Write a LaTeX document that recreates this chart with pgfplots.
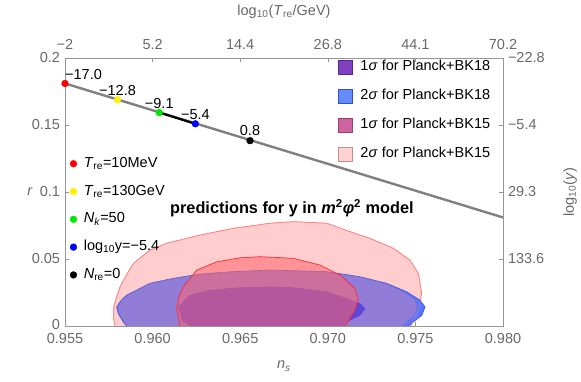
\documentclass[border=0pt]{standalone}
\usepackage{pgfplots}
\pgfplotsset{compat=1.18}
\usepackage{fontspec}
\setmainfont{Liberation Sans}
\definecolor{framegray}{RGB}{150,150,150}
\definecolor{labgray}{RGB}{105,105,105}
\definecolor{linegray}{RGB}{128,128,128}
\definecolor{bkeightB}{RGB}{90,120,255}
\definecolor{bkeightBe}{RGB}{60,90,230}
\definecolor{bkeightP}{RGB}{145,125,215}
\definecolor{bkeightPe}{RGB}{125,110,205}
\definecolor{bkeightI}{RGB}{95,70,215}
\definecolor{bkfiveT}{RGB}{255,205,205}
\definecolor{bkfiveTe}{RGB}{255,120,120}
\definecolor{bkfiveO}{RGB}{255,100,110}
\definecolor{bkfiveOe}{RGB}{255,40,50}
\definecolor{swA}{RGB}{128,64,192}
\definecolor{swAe}{RGB}{90,40,140}
\definecolor{swB}{RGB}{100,140,255}
\definecolor{swBe}{RGB}{50,80,200}
\definecolor{swC}{RGB}{205,100,160}
\definecolor{swCe}{RGB}{160,60,115}
\definecolor{swD}{RGB}{255,210,210}
\definecolor{swDe}{RGB}{205,140,140}
\definecolor{ptyellow}{RGB}{255,240,0}
\definecolor{ptgreen}{RGB}{0,230,0}
\newcommand{\fs}{\fontsize{14.5}{17}\selectfont}
\begin{document}
\begin{tikzpicture}
\useasboundingbox (-65pt,-56pt) rectangle (516pt,326pt);
\pgfplotsset{common/.style={scale only axis, width=438pt, height=268pt,
  xmin=0.955, xmax=0.98, ymin=0, ymax=0.2,
  tick align=inside, major tick length=4pt,
  axis line style={framegray, line width=0.6pt},
  every tick/.style={framegray, line width=0.6pt},
  tick label style={font=\fs, text=labgray, inner sep=1.5pt},
  label style={font=\fs, text=labgray}}}

\begin{axis}[common,
  xtick={0.955,0.96,0.965,0.97,0.975,0.98},
  xticklabels={0.955,0.960,0.965,0.970,0.975,0.980},
  ytick={0,0.05,0.1,0.15,0.2},
  yticklabels={\raisebox{2.5pt}{0},0.05,0.1,0.15,0.2},
  xtick pos=left, ytick pos=left,
  xticklabel style={yshift=-5.8pt},
  yticklabel style={xshift=-3.3pt, yshift=0.5pt},
  xlabel={\textit{n}\textsubscript{\textit{s}}},
  ylabel={\textit{r}},
  xlabel style={at={(axis description cs:0.5,-0.15)}, anchor=center},
  ylabel style={at={(axis description cs:-0.08,0.5)}, anchor=center, rotate=-90},
  legend image code/.code={\draw[#1, line width=0.8pt] (0pt,-7pt) rectangle (14pt,7pt);},
  legend style={at={(axis description cs:0.623,0.998)}, anchor=north west,
    draw=none, fill=none, font=\fs, inner sep=0pt, row sep=12pt, column sep=5.6pt,
    nodes={inner sep=2pt, text height=10pt, text depth=3pt}},
  legend cell align=left]

% 2 sigma Planck+BK15 (under)
\addplot[fill=bkfiveT, draw=bkfiveTe, line width=0.6pt, forget plot] coordinates {
(0.95790,-0.003) (0.95778,0.005) (0.95778,0.0142) (0.95795,0.022) (0.95814,0.0292)
(0.95850,0.038) (0.95890,0.0467) (0.95985,0.0567) (0.96080,0.0617) (0.96271,0.0679)
(0.96461,0.0729) (0.96670,0.0767) (0.96803,0.0779) (0.96994,0.0767) (0.97127,0.0704)
(0.97241,0.0654) (0.97374,0.0580) (0.97469,0.0492) (0.97517,0.0392) (0.97536,0.0243)
(0.97517,0.0118) (0.97479,0.0018) (0.97465,-0.003)} -- cycle;

% 2 sigma Planck+BK18 (blue rim)
\addplot[fill=bkeightB, draw=bkeightBe, line width=0.8pt, forget plot] coordinates {
(0.95870,-0.003) (0.95833,0.003) (0.95805,0.009) (0.95795,0.0142) (0.95820,0.019)
(0.95852,0.0230) (0.95985,0.0318) (0.96118,0.0355) (0.96271,0.0387) (0.96461,0.0405)
(0.96670,0.0417) (0.96994,0.0405) (0.97184,0.0367) (0.97336,0.0318) (0.97450,0.0255)
(0.97526,0.0192) (0.97555,0.0142) (0.97536,0.0080) (0.97488,0.003) (0.97430,-0.003)} -- cycle;

% purple body of the BK18 region
\addplot[fill=bkeightP, draw=bkeightPe, line width=0.5pt, forget plot] coordinates {
(0.95875,-0.003) (0.95838,0.003) (0.95810,0.009) (0.95800,0.0142) (0.95824,0.019)
(0.95855,0.0228) (0.95985,0.0316) (0.96118,0.0353) (0.96271,0.0385) (0.96461,0.0403)
(0.96670,0.0415) (0.96994,0.0403) (0.97184,0.0364) (0.97336,0.0314) (0.97440,0.0250)
(0.97500,0.0190) (0.97510,0.0142) (0.97495,0.0080) (0.97450,0.003) (0.97400,-0.003)} -- cycle;

% 1 sigma Planck+BK18
\addplot[fill=bkeightI, draw=bkeightI, line width=0.5pt, forget plot] coordinates {
(0.96250,-0.003) (0.96170,0.004) (0.96147,0.0142) (0.96213,0.0230) (0.96328,0.0267)
(0.96499,0.0287) (0.96670,0.0292) (0.96803,0.0287) (0.96994,0.0255) (0.97107,0.0205)
(0.97184,0.0167) (0.97212,0.0130) (0.97184,0.008) (0.97107,0.003) (0.97080,-0.003)} -- cycle;

% 1 sigma Planck+BK15 (translucent, on top)
\addplot[fill=bkfiveO, fill opacity=0.55, draw=bkfiveOe, line width=0.7pt, forget plot] coordinates {
(0.96160,-0.003) (0.96150,0.005) (0.96138,0.0130) (0.96150,0.022) (0.96175,0.0292)
(0.96252,0.0417) (0.96366,0.0479) (0.96499,0.0509) (0.96613,0.0517) (0.96700,0.0512)
(0.96803,0.0505) (0.96955,0.0455) (0.97070,0.0380) (0.97155,0.0280) (0.97174,0.0205)
(0.97155,0.0118) (0.97107,0.0018) (0.97095,-0.003)} -- cycle;

% outline of 2 sigma BK15 again
\addplot[draw=bkfiveTe, draw opacity=0.6, line width=0.6pt, forget plot] coordinates {
(0.95790,-0.003) (0.95778,0.005) (0.95778,0.0142) (0.95795,0.022) (0.95814,0.0292)
(0.95850,0.038) (0.95890,0.0467) (0.95985,0.0567) (0.96080,0.0617) (0.96271,0.0679)
(0.96461,0.0729) (0.96670,0.0767) (0.96803,0.0779) (0.96994,0.0767) (0.97127,0.0704)
(0.97241,0.0654) (0.97374,0.0580) (0.97469,0.0492) (0.97517,0.0392) (0.97536,0.0243)
(0.97517,0.0118) (0.97479,0.0018) (0.97465,-0.003)};

% prediction line
\addplot[linegray, line width=2.4pt, forget plot] coordinates {(0.955,0.181) (0.98,0.081)};
\addplot[black, line width=2.2pt, forget plot] coordinates {(0.96038,0.1593) (0.96244,0.1509)};

% points
\addplot[only marks, mark=*, mark size=3.4pt, red, forget plot] coordinates {(0.955,0.181)};
\addplot[only marks, mark=*, mark size=3.4pt, ptyellow, forget plot] coordinates {(0.9580,0.1689)};
\addplot[only marks, mark=*, mark size=3.4pt, ptgreen, forget plot] coordinates {(0.96038,0.1593)};
\addplot[only marks, mark=*, mark size=3.4pt, blue, forget plot] coordinates {(0.96244,0.1509)};
\addplot[only marks, mark=*, mark size=3.4pt, black, forget plot] coordinates {(0.96556,0.1383)};

\node[font=\fs, anchor=base west, inner sep=0pt, yshift=3.5pt] at (axis cs:0.955,0.181) {−17.0};
\node[font=\fs, anchor=base, inner sep=0pt, yshift=4pt] at (axis cs:0.9580,0.1689) {−12.8};
\node[font=\fs, anchor=base, inner sep=0pt, yshift=4pt] at (axis cs:0.96038,0.1593) {−9.1};
\node[font=\fs, anchor=base, inner sep=0pt, yshift=4pt] at (axis cs:0.96244,0.1509) {−5.4};
\node[font=\fs, anchor=base, inner sep=0pt, yshift=5pt] at (axis cs:0.96556,0.1383) {0.8};

\node[font=\fontsize{16.3}{19}\selectfont\bfseries] at (axis description cs:0.518,0.44)
  {predictions for y in \textit{m}\textsuperscript{2}\textit{φ}\textsuperscript{2} model};

\addlegendimage{fill=swA, draw=swAe}
\addlegendentry{1\textit{σ} for Planck+BK18}
\addlegendimage{fill=swB, draw=swBe}
\addlegendentry{2\textit{σ} for Planck+BK18}
\addlegendimage{fill=swC, draw=swCe}
\addlegendentry{1\textit{σ} for Planck+BK15}
\addlegendimage{fill=swD, draw=swDe}
\addlegendentry{2\textit{σ} for Planck+BK15}
\end{axis}

\begin{axis}[common,
  axis x line*=top, axis y line*=right,
  xtick={0.955,0.96,0.965,0.97,0.975,0.98},
  xticklabels={−2,5.2,14.4,26.8,44.1,70.2},
  ytick={0.05,0.1,0.15,0.2},
  yticklabels={133.6,29.3,−5.4,−22.8},
  xticklabel style={yshift=6.3pt},
  yticklabel style={xshift=3.3pt},
  xlabel={log\textsubscript{10}(\textit{T}\textsubscript{re}/GeV)},
  ylabel={log\textsubscript{10}(\textit{y})},
  xlabel style={at={(axis description cs:0.5,1.172)}, anchor=center},
  ylabel style={at={(axis description cs:1.153,0.5)}, anchor=center},
  legend image code/.code={\fill[#1] (3.4pt,0pt) circle (3.4pt);},
  legend style={at={(axis description cs:0.0107,0.638)}, anchor=north west,
    draw=none, fill=none, font=\fs, inner sep=0pt, row sep=10.8pt, column sep=4.7pt,
    nodes={inner sep=2pt, text height=10pt, text depth=3pt}},
  legend cell align=left]
\addlegendimage{red}
\addlegendentry{\textit{T}\textsubscript{re}=10MeV}
\addlegendimage{ptyellow}
\addlegendentry{\textit{T}\textsubscript{re}=130GeV}
\addlegendimage{ptgreen}
\addlegendentry{\textit{N}\textsubscript{\textit{k}}=50}
\addlegendimage{blue}
\addlegendentry{log\textsubscript{10}y=−5.4}
\addlegendimage{black}
\addlegendentry{\textit{N}\textsubscript{re}=0}
\end{axis}
\end{tikzpicture}
\end{document}
